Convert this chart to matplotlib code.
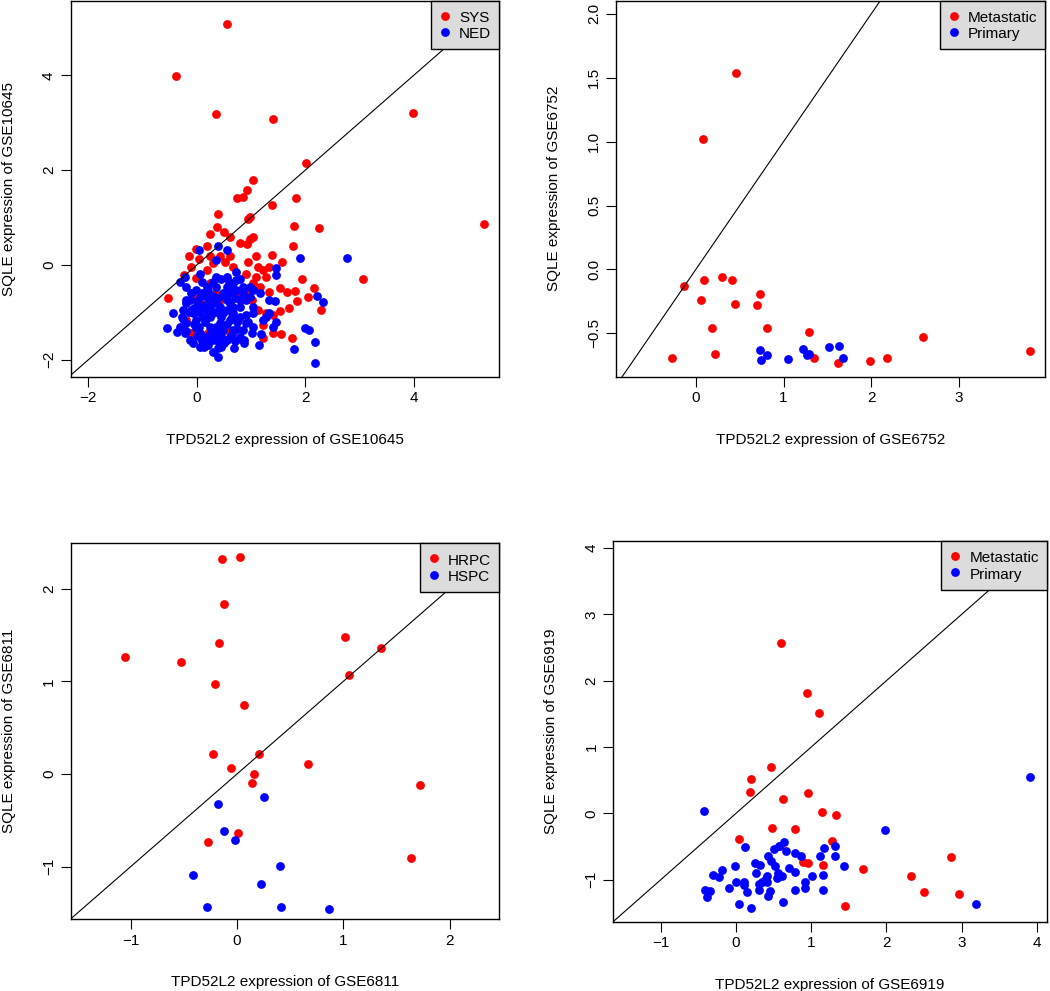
"""Four scatter panels: SQLE vs TPD52L2 expression in four GEO datasets."""

import matplotlib

matplotlib.use("Agg")
import matplotlib.pyplot as plt

plt.rcParams["font.family"] = ["Liberation Sans", "DejaVu Sans"]

RED = "#ff0000"
BLUE = "#0000ff"

# ---- GSE10645 (SYS / NED) ----
gse10645_sys_x = [
    0.56, -0.39, 0.35, 1.40, 3.98, 2.01, 5.29, 3.06, 1.03, 0.93,
    0.75, 0.85, 1.83, 1.39, 0.40, 0.95, 0.99, 0.37, 0.25, 0.50,
    0.61, 1.04, 0.99, 0.93, 0.80, 1.80, 2.25, 1.78, -0.53, -0.15,
    -0.10, -0.01, 0.18, 0.04, 0.25, -0.23, -0.02, 0.18, 0.30, 0.42,
    0.61, 0.52, 0.67, 0.94, 1.10, 1.13, 1.22, 1.33, 1.39, 1.58,
    1.28, 1.10, 1.04, 0.91, 1.16, 1.34, 1.53, 1.66, 1.82, 1.94,
    2.16, 2.06, 1.85, 2.30, 1.70, 1.54, 1.40, 1.28, 1.13, 1.02,
    1.56, 1.76, 1.22, 0.79, 0.76, 0.61, 0.42, 0.36, 0.24, 0.15,
    0.06, -0.07, -0.19, -0.10, 0.21, 0.55, 1.40, 1.22, 0.91, 0.79,
]
gse10645_sys_y = [
    5.08, 3.99, 3.19, 3.07, 3.20, 2.15, 0.86, -0.30, 1.79, 1.58,
    1.41, 1.44, 1.41, 1.26, 1.08, 0.98, 1.02, 0.81, 0.65, 0.69,
    0.58, 0.60, 0.54, 0.45, 0.46, 0.83, 0.78, 0.41, -0.70, 0.18,
    -0.04, 0.33, 0.39, 0.12, 0.18, -0.22, -0.28, -0.11, 0.04, 0.18,
    0.18, 0.07, -0.04, 0.07, 0.18, -0.04, -0.11, -0.04, 0.21, 0.07,
    -0.25, -0.25, -0.39, -0.18, -0.46, -0.56, -0.49, -0.56, -0.55, -0.30,
    -0.49, -0.67, -0.76, -0.95, -0.91, -0.97, -1.05, -1.02, -0.95, -0.74,
    -1.46, -1.55, -1.55, -1.57, -1.16, -0.95, -0.74, -0.60, -0.39, -0.60,
    -0.81, -0.67, -1.16, -1.44, -1.44, -1.37, -1.44, -1.27, -0.53, -0.60,
]
gse10645_ned_x = [
    0.04, 0.39, 0.56, 0.36, 0.06, -0.31, -0.22, -0.19, -0.44, -0.54,
    -0.37, -0.22, -0.07, 0.13, 0.39, 0.40, 0.69, 0.87, 1.15, 1.19,
    1.47, 1.47, 1.33, 1.44, 1.91, 2.77, 2.22, 2.33, 1.99, 2.07,
    2.18, 2.18, 1.79, 1.47, 1.40, 1.28, 1.04, 0.91, 0.73, 0.67,
    0.55, 0.36, 0.18, 0.06, -0.13, -0.25, -0.19, -0.01, 0.18, 0.36,
    0.55, 0.67, 0.79, 0.98, 1.04, 0.79, 0.61, 0.42, 0.24, 0.06,
    0.36, 0.55, 0.30, 0.12, 0.67, 0.85, 1.04, -0.07, 0.12, 0.30,
    0.48, 0.67, -0.19, -0.01, 0.18, 0.36, 0.55, 0.67, 0.85, 1.04,
    1.22, 1.34, 0.06, 0.21, -0.13, -0.31, -0.28, -0.10, 0.48, 0.61,
    0.79, 1.01, 0.88, 0.45, 0.30, -0.01, 0.24, 0.06, 0.48, 0.73,
    0.98, 1.16, 0.91, 0.61, 0.42, 0.24, 0.79, 0.73,
    -0.20, -0.10, 0.00, 0.10, 0.20, 0.30, 0.40, 0.50, 0.60, 0.70,
    0.85, -0.15, -0.05, 0.05, 0.15, 0.25, 0.35, 0.45, 0.55, 0.65,
    0.75, 0.90, -0.20, -0.05, 0.05, 0.15, 0.25, 0.35, 0.45, 0.55,
    0.65, 0.75, 0.95, 0.10, 0.20, 0.40, 0.50, 0.70, 0.00, -0.25,
    0.10, 0.30, 0.45, 0.60, 0.80,
]
gse10645_ned_y = [
    0.32, 0.39, 0.32, 0.11, -0.18, -0.35, -0.25, -0.46, -1.02, -1.32,
    -1.42, -1.44, -1.65, -1.74, -1.76, -1.95, -1.76, -1.58, -1.69, -1.46,
    -0.07, -0.21, -0.74, -0.76, 0.14, 0.14, -0.65, -0.79, -1.32, -1.37,
    -1.62, -2.06, -1.77, -1.21, -1.30, -1.09, -1.02, -1.23, -0.32, -0.53,
    -0.46, -0.25, -0.46, -0.67, -0.74, -0.95, -1.23, -1.16, -0.95, -0.81,
    -0.74, -0.88, -0.74, -0.67, -0.88, -1.09, -1.16, -1.23, -1.30, -1.44,
    -1.44, -1.58, -1.58, -1.51, -1.37, -1.37, -1.30, -1.02, -1.09, -1.02,
    -1.02, -1.02, -0.74, -0.53, -0.67, -0.46, -0.25, -0.39, -0.46, -0.53,
    -1.16, -1.02, -1.72, -1.69, -1.58, -1.30, -1.09, -0.95, -1.37, -1.51,
    -1.51, -1.44, -1.65, -1.72, -1.83, -1.34, -0.74, -0.88, -0.60, -0.53,
    -0.46, -0.60, -0.74, -0.81, -0.88, -0.88, -0.88, -0.14,
    -0.80, -0.60, -0.75, -0.60, -0.55, -0.65, -0.70, -0.65, -0.60, -0.70,
    -0.60, -1.00, -0.90, -1.00, -0.85, -1.10, -1.00, -1.10, -0.95, -1.10,
    -1.20, -1.05, -1.40, -1.25, -1.30, -1.20, -1.45, -1.30, -1.50, -1.25,
    -1.45, -1.35, -1.20, -1.60, -1.55, -1.60, -1.65, -1.60, -1.50, -1.15,
    -0.35, -0.35, -0.30, -0.35, -0.30,
]

# ---- GSE6752 (Metastatic / Primary) ----
gse6752_met_x = [0.46, 0.08, -0.13, 0.09, 0.30, 0.41, 0.73, 0.06, 0.45, 0.70,
                 0.18, 0.81, 1.29, 2.59, -0.27, 0.22, 1.35, 1.62, 1.99, 2.18, 3.81]
gse6752_met_y = [1.54, 1.02, -0.13, -0.08, -0.06, -0.08, -0.19, -0.24, -0.27, -0.28,
                 -0.46, -0.46, -0.49, -0.53, -0.69, -0.66, -0.69, -0.73, -0.72, -0.69, -0.64]
gse6752_pri_x = [0.73, 0.81, 0.74, 1.05, 1.22, 1.27, 1.29, 1.52, 1.63, 1.68]
gse6752_pri_y = [-0.63, -0.67, -0.71, -0.70, -0.62, -0.67, -0.66, -0.61, -0.60, -0.69]

# ---- GSE6811 (HRPC / HSPC) ----
gse6811_hrpc_x = [-0.14, 0.03, -0.12, -0.17, -1.05, -0.53, -0.21, 0.07, 1.02, 1.35,
                  1.05, -0.23, 0.21, -0.06, 0.16, 0.14, 0.67, 1.72, 0.01, -0.27, 1.64]
gse6811_hrpc_y = [2.32, 2.34, 1.84, 1.41, 1.26, 1.21, 0.97, 0.74, 1.48, 1.36,
                  1.07, 0.22, 0.22, 0.06, 0.00, -0.10, 0.11, -0.12, -0.64, -0.73, -0.91]
gse6811_hspc_x = [-0.18, 0.25, -0.12, -0.02, 0.40, -0.41, 0.23, -0.28, 0.41, 0.87]
gse6811_hspc_y = [-0.32, -0.25, -0.62, -0.71, -0.99, -1.09, -1.19, -1.44, -1.44, -1.46]

# ---- GSE6919 (Metastatic / Primary) ----
gse6919_met_x = [0.60, 0.94, 1.10, 0.46, 0.20, 0.19, 0.62, 0.95, 1.14, 1.33, 0.48, 0.78,
                 0.04, 1.27, 2.86, 1.69, 2.32, 1.16, 0.89, 0.96, 2.50, 2.97, 1.45, 0.59]
gse6919_met_y = [2.57, 1.82, 1.51, 0.70, 0.52, 0.32, 0.22, 0.30, 0.02, -0.02, -0.22, -0.24,
                 -0.38, -0.42, -0.66, -0.84, -0.95, -0.78, -0.73, -0.75, -1.19, -1.21, -1.39, -0.50]
gse6919_pri_x = [
    -0.43, 3.91, 1.98, 3.19, 0.12, 0.64, 0.57, 0.50, 0.43, 0.67,
    0.78, 0.87, 1.17, 1.32, 1.11, 1.31, 1.43, 0.25, 0.32, 0.47,
    0.52, -0.01, -0.19, -0.30, -0.23, -0.41, -0.34, -0.39, -0.10, 0.00,
    0.10, 0.11, 0.15, 0.30, 0.34, 0.41, 0.41, 0.45, 0.43, 0.04,
    0.20, 0.27, 0.56, 0.61, 0.54, 0.70, 0.78, 0.78, 0.91, 0.91,
    1.01, 1.15, 1.15, 0.62, 0.39, 0.30,
]
gse6919_pri_y = [
    0.04, 0.54, -0.25, -1.36, -0.51, -0.43, -0.49, -0.54, -0.64, -0.57,
    -0.60, -0.65, -0.53, -0.50, -0.64, -0.64, -0.79, -0.75, -0.78, -0.72,
    -0.79, -0.79, -0.85, -0.93, -0.96, -1.15, -1.17, -1.26, -1.13, -1.04,
    -1.03, -1.08, -1.18, -1.15, -1.03, -0.95, -1.03, -1.17, -1.25, -1.37,
    -1.42, -0.90, -0.90, -0.95, -0.98, -0.83, -0.89, -1.16, -1.03, -1.13,
    -0.95, -0.93, -1.15, -1.34, -1.00, -1.06,
]

W, H = 1050, 991


def _add_panel(fig, box, gse, groups, xlim, ylim, xticks, yticks):
    """Draw one R-style scatter panel; box = (left, top, right, bottom) in px."""
    left, top, right, bottom = box
    ax = fig.add_axes([left / W, 1 - bottom / H, (right - left) / W, (bottom - top) / H])

    for (xs, ys, color, label) in groups:
        ax.scatter(xs, ys, s=40, color=color, linewidths=0, label=label, zorder=2)

    # identity line
    ax.axline((0, 0), slope=1, color="black", lw=0.8, zorder=3)

    ax.set_xlim(*xlim)
    ax.set_ylim(*ylim)
    ax.set_xticks(xticks)
    ax.set_yticks(yticks)
    ax.tick_params(direction="out", length=7, width=0.8, labelsize=11, pad=3.5)
    for lab in ax.get_yticklabels():
        lab.set_rotation(90)
        lab.set_va("center")
    for sp in ax.spines.values():
        sp.set_linewidth(1.0)

    ax.set_xlabel(f"TPD52L2 expression of {gse}", fontsize=11, va="center")
    ax.set_ylabel(f"SQLE expression of {gse}", fontsize=11, va="center")
    ax.xaxis.set_label_coords(0.5, -63 / (bottom - top))
    ax.yaxis.set_label_coords(-62 / (right - left), 0.5)

    leg = ax.legend(loc="upper right", borderaxespad=0, fancybox=False,
                    edgecolor="black", facecolor="#dcdcdc", framealpha=1,
                    fontsize=11, handlelength=0.78, handleheight=1.27,
                    handletextpad=0.53, labelspacing=0.0, borderpad=0.52,
                    scatterpoints=1)
    leg.get_frame().set_linewidth(1.0)
    return ax


def main() -> int:
    fig = plt.figure(figsize=(W / 100, H / 100), dpi=100)

    _add_panel(fig, (70.7, 0.5, 499.3, 376.7), "GSE10645",
               [(gse10645_sys_x, gse10645_sys_y, RED, "SYS"),
                (gse10645_ned_x, gse10645_ned_y, BLUE, "NED")],
               (-2.325, 5.58), (-2.357, 5.58), [-2, 0, 2, 4], [-2, 0, 2, 4])

    _add_panel(fig, (615.7, 0.5, 1045, 376.7), "GSE6752",
               [(gse6752_met_x, gse6752_met_y, RED, "Metastatic"),
                (gse6752_pri_x, gse6752_pri_y, BLUE, "Primary")],
               (-0.913, 3.98), (-0.839, 2.104), [0, 1, 2, 3],
               [-0.5, 0.0, 0.5, 1.0, 1.5, 2.0])

    _add_panel(fig, (70.7, 543.3, 499.3, 919), "GSE6811",
               [(gse6811_hrpc_x, gse6811_hrpc_y, RED, "HRPC"),
                (gse6811_hspc_x, gse6811_hspc_y, BLUE, "HSPC")],
               (-1.564, 2.467), (-1.565, 2.49), [-1, 0, 1, 2], [-1, 0, 1, 2])

    _add_panel(fig, (613.3, 541, 1046.7, 921.7), "GSE6919",
               [(gse6919_met_x, gse6919_met_y, RED, "Metastatic"),
                (gse6919_pri_x, gse6919_pri_y, BLUE, "Primary")],
               (-1.632, 4.13), (-1.634, 4.105), [-1, 0, 1, 2, 3, 4],
               [-1, 0, 1, 2, 3, 4])

    fig.savefig("out.png", dpi=100)
    return 0


if __name__ == "__main__":
    raise SystemExit(main())
